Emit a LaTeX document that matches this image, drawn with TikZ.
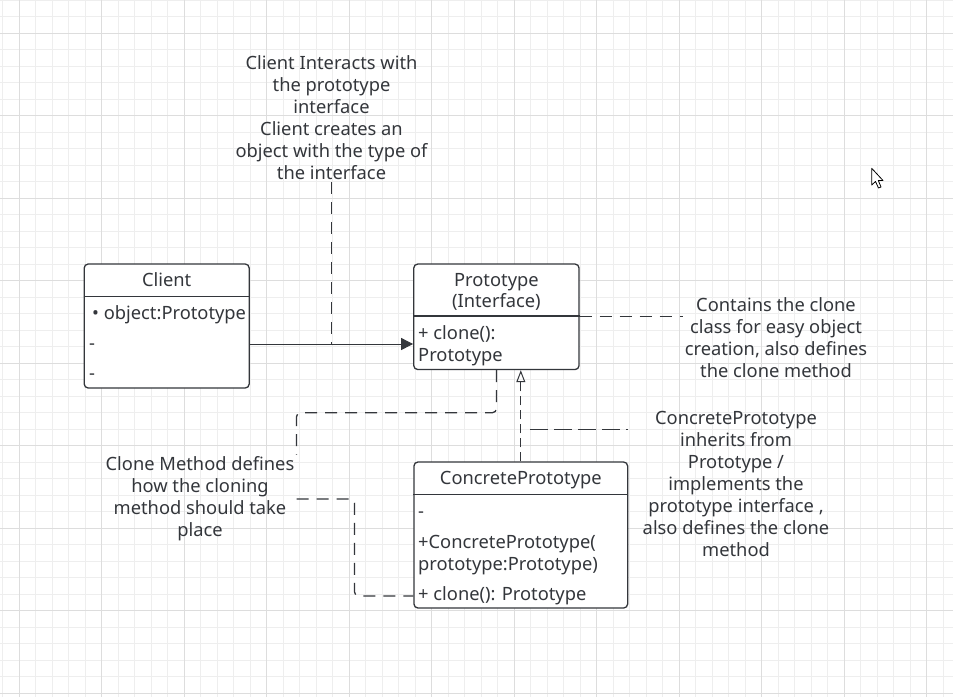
\documentclass[tikz,border=0pt]{standalone}
\usepackage{fontspec}
\setmainfont{Noto Sans}
\usetikzlibrary{arrows.meta,positioning}
\definecolor{ink}{HTML}{33363B}
\definecolor{gridminor}{HTML}{EEEEEE}
\definecolor{gridmajor}{HTML}{DDDDDD}
\tikzset{
  umlbox/.style={draw=ink, line width=1.3pt, rounded corners=4pt, fill=white, inner sep=0pt},
  divider/.style={draw=ink, line width=1.3pt},
  boxtext/.style={text=ink, inner sep=0pt, text height=13pt, text depth=4pt},
  rowtext/.style={boxtext, anchor=west},
  notetext/.style={text=ink, align=center, inner sep=2pt},
  dashedlink/.style={draw=ink, line width=1.3pt, dash pattern=on 12pt off 8pt},
}
\begin{document}
\begin{tikzpicture}[x=1pt, y=-1pt, every node/.style={font=\fontsize{18.3}{22}\selectfont}]
% background and grid
    \fill[white] (0,0) rectangle (953,697);
    \useasboundingbox (0,0) rectangle (953,697);
    \foreach \i in {0,...,57} \draw[gridminor, line width=1pt] ({2.8+16.5*\i},0) -- ++(0,697);
    \foreach \i in {0,...,42} \draw[gridminor, line width=1pt] (0,{0.3+16.5*\i}) -- ++(953,0);
    \foreach \i in {0,...,11} \draw[gridmajor, line width=1pt] ({19.3+82.5*\i},0) -- ++(0,697);
    \foreach \i in {0,...,8} \draw[gridmajor, line width=1pt] (0,{33.3+82.5*\i}) -- ++(953,0);
    % class boxes
    \node[umlbox, minimum width=165pt, minimum height=124pt] (client) at (166.7,326) {};
    \draw[divider] ([yshift=-33pt]client.north west) -- ([yshift=-33pt]client.north east);
    \node[boxtext] at ([yshift=-19pt]client.north) {Client};
    \node[rowtext] (cobj) at (92,315) {• object:Prototype};
    \node[rowtext] (cdash1) at (89,345) {-};
    \node[rowtext] (cdash2) at (89,375) {-};

    \node[umlbox, minimum width=165.3pt, minimum height=105.5pt] (proto) at (496.4,316.8) {};
    \draw[divider] ([yshift=-52.7pt]proto.north west) -- ([yshift=-52.7pt]proto.north east);
    \node[boxtext] at ([yshift=-19pt]proto.north) {Prototype};
    \node[boxtext] at ([yshift=-40pt]proto.north) {(Interface)};
    \node[rowtext] (pclone) at (418,335) {+ clone():};
    \node[rowtext] (ptype) at (418,357) {Prototype};

    \node[umlbox, minimum width=213.7pt, minimum height=146pt] (concrete) at (520.8,535) {};
    \draw[divider] ([yshift=-33pt]concrete.north west) -- ([yshift=-33pt]concrete.north east);
    \node[boxtext] at ([yshift=-19pt]concrete.north) {ConcretePrototype};
    \node[rowtext] (cpdash) at (418,513) {-};
    \node[rowtext] (cpctor) at (418,544) {+ConcretePrototype(};
    \node[rowtext] (cparg) at (418,566) {prototype:Prototype)};
    \node[rowtext] (cpclone) at (418,596) {+ clone(): Prototype};
    % notes
    \node[notetext] (usenote) at (331.5,118) {Client Interacts with\\the prototype\\interface\\Client creates an\\object with the type of\\the interface};
    \node[notetext] (protonote) at (776,338) {Contains the clone\\class for easy object\\creation, also defines\\the clone method};
    \node[notetext] (inhnote) at (736,484) {ConcretePrototype\\inherits from\\Prototype /\\implements the\\prototype interface ,\\also defines the clone\\method};
    \node[notetext] (clonenote) at (200,499) {Clone Method defines\\how the cloning\\method should take\\place};
    % connectors
    \draw[draw=ink, line width=0.9pt, -{Triangle[length=12pt, width=12pt]}] ([yshift=-18pt]client.east) -- coordinate[pos=0.49] (usept) ([yshift=-18pt]client.east -| proto.west);
    \draw[dashedlink] (usenote.south) -- (usenote.south |- usept);
    \draw[dashedlink] (proto.east) -- (proto.east -| protonote.west);
    \draw[dashedlink, dash pattern=on 9pt off 5pt, -{Triangle[open, length=12pt, width=9pt, line width=1pt]}] (concrete.north) -- coordinate[pos=0.35] (inhpt) (concrete.north |- proto.south);
    \draw[dashedlink, dash pattern=on 18pt off 6pt] ([xshift=9pt]inhpt) -- (inhpt -| concrete.east);
    \draw[dashedlink, rounded corners=4pt] (proto.south) -- ++(0,42.5) -| (clonenote.north east);
    \draw[dashedlink, rounded corners=4pt] (clonenote.east) -- ++(58,0) |- (concrete.west |- cpclone);
    % mouse pointer
    \draw[black, fill=white, line width=0.8pt, line join=round] (871.7,168.3) -- (871.7,185) -- (875.5,181.5) -- (878.5,188) -- (881,187) -- (878.3,180.5) -- (883,180.5) -- cycle;
\end{tikzpicture}
\end{document}
